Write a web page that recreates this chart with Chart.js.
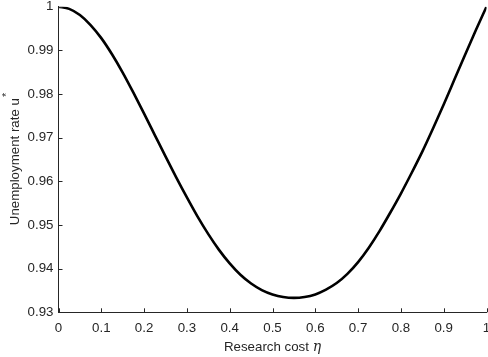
<!DOCTYPE html>
<html>
<head>
<meta charset="utf-8">
<script src="https://cdn.jsdelivr.net/npm/chart.js@4/dist/chart.umd.min.js"></script>
<style>
html,body{margin:0;padding:0;background:#fff;}
#wrap{width:488px;height:357px;position:relative;}
</style>
</head>
<body>
<div id="wrap"><canvas id="c" width="488" height="357"></canvas></div>
<script>
const researchCost = [0, 0.025, 0.05, 0.075, 0.1, 0.125, 0.15, 0.175, 0.2, 0.225, 0.25, 0.275, 0.3, 0.325, 0.35, 0.375, 0.4, 0.425, 0.45, 0.475, 0.5, 0.525, 0.55, 0.575, 0.6, 0.625, 0.65, 0.675, 0.7, 0.725, 0.75, 0.775, 0.8, 0.825, 0.85, 0.875, 0.9, 0.925, 0.95, 0.975, 1.0];
const unemployment = [1.0, 0.9995, 0.9981, 0.9958, 0.9928, 0.9891, 0.9849, 0.9803, 0.9755, 0.9706, 0.9657, 0.9609, 0.9563, 0.9519, 0.9479, 0.9443, 0.9412, 0.9386, 0.9366, 0.9351, 0.9341, 0.9335, 0.9333, 0.9335, 0.9341, 0.9352, 0.9367, 0.9388, 0.9415, 0.9448, 0.9486, 0.9528, 0.9572, 0.9619, 0.9668, 0.9721, 0.9776, 0.9833, 0.9890, 0.9946, 1.0];
const xTicks = [0, 0.1, 0.2, 0.3, 0.4, 0.5, 0.6, 0.7, 0.8, 0.9, 1];
const xTickLabels = ['0', '0.1', '0.2', '0.3', '0.4', '0.5', '0.6', '0.7', '0.8', '0.9', '1'];
const yTicks = [0.93, 0.94, 0.95, 0.96, 0.97, 0.98, 0.99, 1];
const yTickLabels = ['0.93', '0.94', '0.95', '0.96', '0.97', '0.98', '0.99', '1'];
const xTitle = 'Research cost ';
const xTitleSym = 'η';
const yTitle = 'Unemployment rate u';
const yTitleSup = '*';

const axisColor = '#262626';
const fontFamily = '"Liberation Sans", Arial, Helvetica, sans-serif';

const points = researchCost.map((x, i) => ({x: x, y: unemployment[i]}));

const inwardTicks = {
  id: 'inwardTicks',
  afterDraw(chart) {
    const ctx = chart.ctx;
    const xs = chart.scales.x, ys = chart.scales.y;
    const a = chart.chartArea;
    ctx.save();
    ctx.strokeStyle = axisColor;
    ctx.lineWidth = 1;
    ctx.beginPath();
    xTicks.forEach(v => {
      const px = Math.round(xs.getPixelForValue(v)) + 0.5;
      ctx.moveTo(px, a.bottom);
      ctx.lineTo(px, a.bottom - 4);
    });
    yTicks.forEach(v => {
      const py = Math.round(ys.getPixelForValue(v)) + 0.5;
      ctx.moveTo(a.left, py);
      ctx.lineTo(a.left + 4, py);
    });
    ctx.stroke();

    // x title
    ctx.fillStyle = axisColor;
    ctx.textBaseline = 'alphabetic';
    ctx.textAlign = 'left';
    ctx.font = '13.3px ' + fontFamily;
    const w1 = ctx.measureText(xTitle).width;
    ctx.font = 'italic 14px "DejaVu Serif", "Liberation Serif", serif';
    const w2 = ctx.measureText(xTitleSym).width;
    const cx = (a.left + a.right) / 2;
    const sx = cx - (w1 + w2) / 2;
    ctx.font = '13.3px ' + fontFamily;
    ctx.fillText(xTitle, sx, 351);
    ctx.font = 'italic 14px "DejaVu Serif", "Liberation Serif", serif';
    ctx.fillText(xTitleSym, sx + w1, 351);

    // y title rotated
    ctx.save();
    const cy = (a.top + a.bottom) / 2;
    ctx.translate(19, cy);
    ctx.rotate(-Math.PI / 2);
    ctx.font = '13.3px ' + fontFamily;
    const wy = ctx.measureText(yTitle).width;
    ctx.font = '11px ' + fontFamily;
    const ws = ctx.measureText(yTitleSup).width;
    const start = -(wy + ws) / 2;
    ctx.font = '13.3px ' + fontFamily;
    ctx.fillText(yTitle, start, 0);
    ctx.font = '11px ' + fontFamily;
    ctx.fillText(yTitleSup, start + wy + 1, -9);
    ctx.restore();
    ctx.restore();
  }
};

new Chart(document.getElementById('c'), {
  type: 'line',
  data: {
    datasets: [{
      data: points,
      borderColor: '#000000',
      borderWidth: 2.6,
      pointRadius: 0,
      fill: false,
      cubicInterpolationMode: 'monotone'
    }]
  },
  options: {
    responsive: false,
    animation: false,
    devicePixelRatio: 1,
    layout: {padding: {top: 6.7, right: 1.5, left: 0, bottom: 0}},
    plugins: {legend: {display: false}, tooltip: {enabled: false}},
    scales: {
      x: {
        type: 'linear', min: 0, max: 1,
        afterBuildTicks: s => { s.ticks = xTicks.map(v => ({value: v})); },
        afterFit: s => { s.height = 44.7; s.paddingLeft = 0; s.paddingRight = 0; },
        grid: {display: true, drawOnChartArea: false, drawTicks: false},
        border: {display: true, color: axisColor, width: 1},
        ticks: {
          color: axisColor, padding: 8, maxRotation: 0, autoSkip: false,
          font: {family: fontFamily, size: 13.3},
          callback: (v, i) => xTickLabels[i]
        }
      },
      y: {
        type: 'linear', min: 0.93, max: 1,
        afterBuildTicks: s => { s.ticks = yTicks.map(v => ({value: v})); },
        afterFit: s => { s.width = 58.5; s.paddingTop = 0; s.paddingBottom = 0; },
        grid: {display: true, drawOnChartArea: false, drawTicks: false},
        border: {display: true, color: axisColor, width: 1},
        ticks: {
          color: axisColor, padding: 5, autoSkip: false,
          font: {family: fontFamily, size: 13.3},
          callback: (v, i) => yTickLabels[i]
        }
      }
    }
  },
  plugins: [inwardTicks]
});
</script>
</body>
</html>
